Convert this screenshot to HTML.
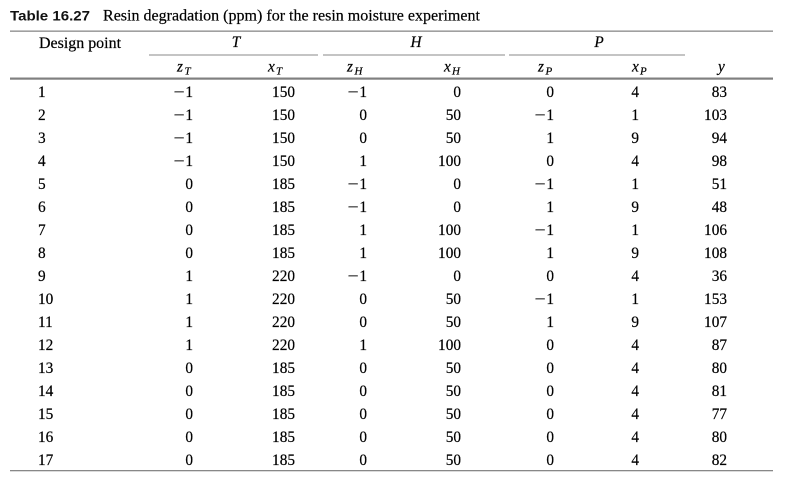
<!DOCTYPE html>
<html>
<head>
<meta charset="utf-8">
<style>
  html, body { margin: 0; padding: 0; background: #fff; }
  body { width: 791px; height: 485px; overflow: hidden; }
  svg { display: block; }
  .t { font-family: "Liberation Serif", "DejaVu Serif", serif; font-size: 15.3px; fill: #000; stroke: #000; stroke-width: 0.2px; }
  .i { font-style: italic; }
  .b { font-family: "Liberation Sans", "DejaVu Sans", sans-serif; font-weight: bold; font-size: 14px; fill: #111; }
  .s { font-size: 11px; font-style: italic; }
</style>
</head>
<body>
<svg width="791" height="485" viewBox="0 0 791 485" xmlns="http://www.w3.org/2000/svg">
  <!-- Title -->
  <text class="b" x="10" y="20.5" textLength="80" lengthAdjust="spacingAndGlyphs">Table 16.27</text>
  <text class="t" x="103" y="20.5" textLength="377" lengthAdjust="spacingAndGlyphs">Resin degradation (ppm) for the resin moisture experiment</text>

  <!-- Rules -->
  <rect x="10" y="30.5" width="763" height="1.3" fill="#888"/>
  <rect x="149" y="54.5" width="169" height="1" fill="#888"/>
  <rect x="323" y="54.5" width="182" height="1" fill="#888"/>
  <rect x="509" y="54.5" width="176" height="1" fill="#888"/>
  <rect x="10" y="77.5" width="763" height="2.2" fill="#808080"/>
  <rect x="10" y="470" width="763" height="1.3" fill="#888"/>

  <!-- Header row 1 -->
  <text class="t" x="39" y="48" textLength="82" lengthAdjust="spacingAndGlyphs">Design point</text>
  <text class="t i" x="236" y="47" text-anchor="middle">T</text>
  <text class="t i" x="416" y="47" text-anchor="middle">H</text>
  <text class="t i" x="599" y="47" text-anchor="middle">P</text>

  <!-- Header row 2 -->
  <text class="t i" x="177" y="71.5">z<tspan class="s" x="184.5" y="74.5">T</tspan></text>
  <text class="t i" x="268" y="71.5">x<tspan class="s" x="276" y="74.5">T</tspan></text>
  <text class="t i" x="347" y="71.5">z<tspan class="s" x="354.5" y="74.5">H</tspan></text>
  <text class="t i" x="444" y="71.5">x<tspan class="s" x="452" y="74.5">H</tspan></text>
  <text class="t i" x="538" y="71.5">z<tspan class="s" x="545.5" y="74.5">P</tspan></text>
  <text class="t i" x="632" y="71.5">x<tspan class="s" x="640" y="74.5">P</tspan></text>
  <text class="t i" x="718" y="71.5">y</text>

  <!-- Data rows -->
  <g class="t">
    <!-- Design point column -->
    <g>
      <text x="38" y="97">1</text>
      <text x="38" y="120">2</text>
      <text x="38" y="143">3</text>
      <text x="38" y="166">4</text>
      <text x="38" y="189">5</text>
      <text x="38" y="212">6</text>
      <text x="38" y="235">7</text>
      <text x="38" y="258">8</text>
      <text x="38" y="281">9</text>
      <text x="38" y="304">10</text>
      <text x="38" y="327">11</text>
      <text x="38" y="350">12</text>
      <text x="38" y="373">13</text>
      <text x="38" y="396">14</text>
      <text x="38" y="419">15</text>
      <text x="38" y="442">16</text>
      <text x="38" y="465">17</text>
    </g>
    <!-- minus signs (stretched to match reference width) -->
    <g>
      <text x="173.5" y="97" textLength="11" lengthAdjust="spacingAndGlyphs">−</text>
      <text x="173.5" y="120" textLength="11" lengthAdjust="spacingAndGlyphs">−</text>
      <text x="173.5" y="143" textLength="11" lengthAdjust="spacingAndGlyphs">−</text>
      <text x="173.5" y="166" textLength="11" lengthAdjust="spacingAndGlyphs">−</text>
      <text x="347.5" y="97" textLength="11" lengthAdjust="spacingAndGlyphs">−</text>
      <text x="347.5" y="189" textLength="11" lengthAdjust="spacingAndGlyphs">−</text>
      <text x="347.5" y="212" textLength="11" lengthAdjust="spacingAndGlyphs">−</text>
      <text x="347.5" y="281" textLength="11" lengthAdjust="spacingAndGlyphs">−</text>
      <text x="534.5" y="120" textLength="11" lengthAdjust="spacingAndGlyphs">−</text>
      <text x="534.5" y="189" textLength="11" lengthAdjust="spacingAndGlyphs">−</text>
      <text x="534.5" y="235" textLength="11" lengthAdjust="spacingAndGlyphs">−</text>
      <text x="534.5" y="304" textLength="11" lengthAdjust="spacingAndGlyphs">−</text>
    </g>
    <!-- zT -->
    <g text-anchor="end">
      <text x="193" y="97">1</text>
      <text x="193" y="120">1</text>
      <text x="193" y="143">1</text>
      <text x="193" y="166">1</text>
      <text x="193" y="189">0</text>
      <text x="193" y="212">0</text>
      <text x="193" y="235">0</text>
      <text x="193" y="258">0</text>
      <text x="193" y="281">1</text>
      <text x="193" y="304">1</text>
      <text x="193" y="327">1</text>
      <text x="193" y="350">1</text>
      <text x="193" y="373">0</text>
      <text x="193" y="396">0</text>
      <text x="193" y="419">0</text>
      <text x="193" y="442">0</text>
      <text x="193" y="465">0</text>
    </g>
    <!-- xT -->
    <g text-anchor="end">
      <text x="295" y="97">150</text>
      <text x="295" y="120">150</text>
      <text x="295" y="143">150</text>
      <text x="295" y="166">150</text>
      <text x="295" y="189">185</text>
      <text x="295" y="212">185</text>
      <text x="295" y="235">185</text>
      <text x="295" y="258">185</text>
      <text x="295" y="281">220</text>
      <text x="295" y="304">220</text>
      <text x="295" y="327">220</text>
      <text x="295" y="350">220</text>
      <text x="295" y="373">185</text>
      <text x="295" y="396">185</text>
      <text x="295" y="419">185</text>
      <text x="295" y="442">185</text>
      <text x="295" y="465">185</text>
    </g>
    <!-- zH -->
    <g text-anchor="end">
      <text x="367" y="97">1</text>
      <text x="367" y="120">0</text>
      <text x="367" y="143">0</text>
      <text x="367" y="166">1</text>
      <text x="367" y="189">1</text>
      <text x="367" y="212">1</text>
      <text x="367" y="235">1</text>
      <text x="367" y="258">1</text>
      <text x="367" y="281">1</text>
      <text x="367" y="304">0</text>
      <text x="367" y="327">0</text>
      <text x="367" y="350">1</text>
      <text x="367" y="373">0</text>
      <text x="367" y="396">0</text>
      <text x="367" y="419">0</text>
      <text x="367" y="442">0</text>
      <text x="367" y="465">0</text>
    </g>
    <!-- xH -->
    <g text-anchor="end">
      <text x="461" y="97">0</text>
      <text x="461" y="120">50</text>
      <text x="461" y="143">50</text>
      <text x="461" y="166">100</text>
      <text x="461" y="189">0</text>
      <text x="461" y="212">0</text>
      <text x="461" y="235">100</text>
      <text x="461" y="258">100</text>
      <text x="461" y="281">0</text>
      <text x="461" y="304">50</text>
      <text x="461" y="327">50</text>
      <text x="461" y="350">100</text>
      <text x="461" y="373">50</text>
      <text x="461" y="396">50</text>
      <text x="461" y="419">50</text>
      <text x="461" y="442">50</text>
      <text x="461" y="465">50</text>
    </g>
    <!-- zP -->
    <g text-anchor="end">
      <text x="554" y="97">0</text>
      <text x="554" y="120">1</text>
      <text x="554" y="143">1</text>
      <text x="554" y="166">0</text>
      <text x="554" y="189">1</text>
      <text x="554" y="212">1</text>
      <text x="554" y="235">1</text>
      <text x="554" y="258">1</text>
      <text x="554" y="281">0</text>
      <text x="554" y="304">1</text>
      <text x="554" y="327">1</text>
      <text x="554" y="350">0</text>
      <text x="554" y="373">0</text>
      <text x="554" y="396">0</text>
      <text x="554" y="419">0</text>
      <text x="554" y="442">0</text>
      <text x="554" y="465">0</text>
    </g>
    <!-- xP -->
    <g text-anchor="end">
      <text x="639" y="97">4</text>
      <text x="639" y="120">1</text>
      <text x="639" y="143">9</text>
      <text x="639" y="166">4</text>
      <text x="639" y="189">1</text>
      <text x="639" y="212">9</text>
      <text x="639" y="235">1</text>
      <text x="639" y="258">9</text>
      <text x="639" y="281">4</text>
      <text x="639" y="304">1</text>
      <text x="639" y="327">9</text>
      <text x="639" y="350">4</text>
      <text x="639" y="373">4</text>
      <text x="639" y="396">4</text>
      <text x="639" y="419">4</text>
      <text x="639" y="442">4</text>
      <text x="639" y="465">4</text>
    </g>
    <!-- y -->
    <g text-anchor="end">
      <text x="727" y="97">83</text>
      <text x="727" y="120">103</text>
      <text x="727" y="143">94</text>
      <text x="727" y="166">98</text>
      <text x="727" y="189">51</text>
      <text x="727" y="212">48</text>
      <text x="727" y="235">106</text>
      <text x="727" y="258">108</text>
      <text x="727" y="281">36</text>
      <text x="727" y="304">153</text>
      <text x="727" y="327">107</text>
      <text x="727" y="350">87</text>
      <text x="727" y="373">80</text>
      <text x="727" y="396">81</text>
      <text x="727" y="419">77</text>
      <text x="727" y="442">80</text>
      <text x="727" y="465">82</text>
    </g>
  </g>
</svg>
</body>
</html>
